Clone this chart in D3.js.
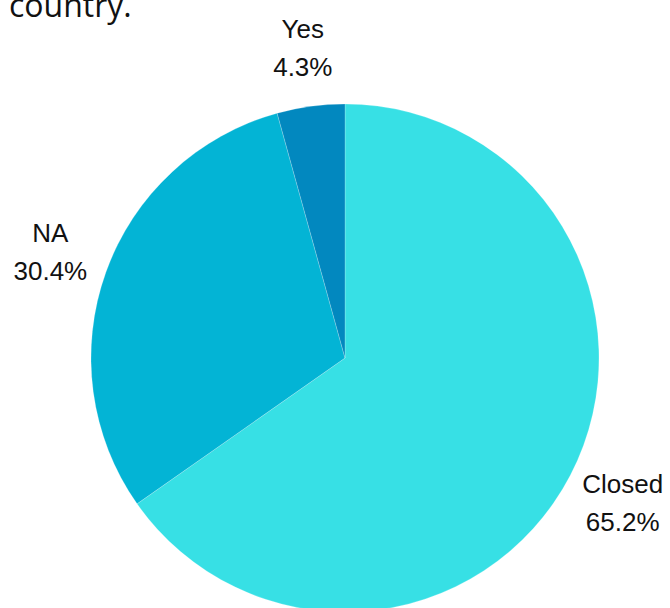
<!DOCTYPE html>
<html>
<head>
<meta charset="utf-8">
<script src="https://cdn.jsdelivr.net/npm/d3@7"></script>
<style>
  html, body { margin: 0; padding: 0; background: #fff; }
  svg { display: block; }
</style>
</head>
<body>
<svg id="chart" width="670" height="608"></svg>
<script>
// Share of responses by status
const categories = ["Closed", "NA", "Yes"];
const values = [65.2, 30.4, 4.3];
const colors = ["#37e0e5", "#03b4d5", "#0288bf"];
const titleLines = ["country."];

const width = 670, height = 608;
const cx = 345, cy = 358, radius = 254, labelRadius = 313;

const svg = d3.select("#chart");

// Title (only the last line sits inside the view)
svg.append("g")
  .selectAll("text")
  .data(titleLines)
  .join("text")
  .attr("x", 9)
  .attr("y", (d, i) => 17 - (titleLines.length - 1 - i) * 42)
  .attr("font-family", "'Open Sans', sans-serif")
  .attr("font-size", 32)
  .attr("fill", "#111")
  .text(d => d);

const data = categories.map((c, i) => ({ name: c, value: values[i], color: colors[i] }));

const pie = d3.pie().sort(null).value(d => d.value);
const arcs = pie(data);
const arc = d3.arc().innerRadius(0).outerRadius(radius);

const g = svg.append("g").attr("transform", `translate(${cx},${cy})`);

g.selectAll("path")
  .data(arcs)
  .join("path")
  .attr("d", arc)
  .attr("fill", d => d.data.color)
  .attr("stroke", "rgba(255,255,255,0.35)")
  .attr("stroke-width", 0.6);

// Outside labels: name and percentage on two lines
const labelArc = d3.arc().innerRadius(labelRadius).outerRadius(labelRadius);
const labels = g.selectAll("g.label")
  .data(arcs)
  .join("g")
  .attr("class", "label")
  .attr("transform", d => `translate(${labelArc.centroid(d)})`);

labels.append("text")
  .attr("text-anchor", "middle")
  .attr("y", -19)
  .attr("dy", "0.35em")
  .attr("font-family", "'Liberation Sans', Arial, sans-serif")
  .attr("font-size", 26)
  .attr("fill", "#111")
  .text(d => d.data.name);

labels.append("text")
  .attr("text-anchor", "middle")
  .attr("y", 19)
  .attr("dy", "0.35em")
  .attr("font-family", "'Liberation Sans', Arial, sans-serif")
  .attr("font-size", 26)
  .attr("fill", "#111")
  .text(d => d.data.value.toFixed(1) + "%");
</script>
</body>
</html>
